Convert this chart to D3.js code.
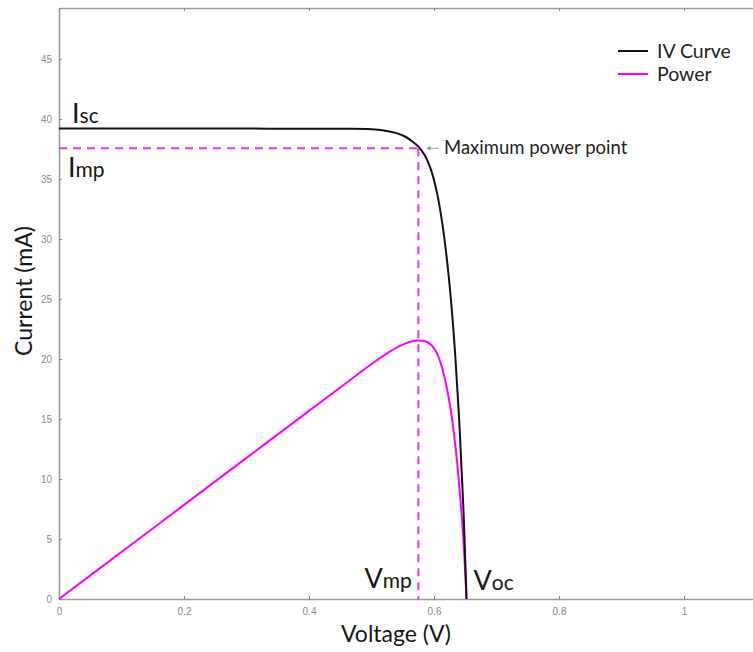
<!DOCTYPE html>
<html>
<head>
<meta charset="utf-8">
<script src="https://cdn.jsdelivr.net/npm/d3@7"></script>
<style>
  html, body { margin: 0; padding: 0; background: #fff; }
  svg { display: block; }
  text { font-family: Lato, "Open Sans", sans-serif; }
</style>
</head>
<body>
<svg id="chart" width="753" height="652"></svg>
<script>
// ---- data ----
const voltage   = [0, 0.1, 0.2, 0.3, 0.4, 0.45, 0.5, 0.52, 0.54, 0.555, 0.565, 0.575, 0.585, 0.595, 0.605, 0.613, 0.62, 0.627, 0.634, 0.641, 0.647, 0.652];
const ivCurrent = [39.2, 39.2, 39.2, 39.2, 39.19, 39.18, 39.15, 39.05, 38.82, 38.5, 38.15, 37.7, 37.0, 35.8, 33.8, 31.4, 28.6, 25.0, 20.3, 14.2, 7.6, 0];
const power     = [0, 3.92, 7.84, 11.76, 15.68, 17.63, 19.58, 20.3, 20.95, 21.3, 21.48, 21.55, 21.5, 21.2, 20.45, 19.25, 17.73, 15.68, 12.87, 9.1, 4.92, 0];
const xTicks = [0, 0.2, 0.4, 0.6, 0.8, 1];
const yTicks = [0, 5, 10, 15, 20, 25, 30, 35, 40, 45];
const Vmp = 0.575, Imp = 37.56, Isc = 39.2, Voc = 0.652;
const legendItems = [{name: "IV Curve", color: "#111"}, {name: "Power", color: "#ff00ff"}];

const svg = d3.select("#chart");
const x = d3.scaleLinear().domain([0, 1.1104]).range([59, 753]);
const y = d3.scaleLinear().domain([0, 49.25]).range([599, 8]);

const axisColor = "#9a9a9a";
// axes (MATLAB-like box with inward ticks)
const gx = svg.append("g").attr("transform", `translate(0,${y(0)})`)
  .call(d3.axisBottom(x).tickValues(xTicks).tickFormat(d => d === 0 ? "0" : String(d)).tickSizeInner(-3).tickSizeOuter(0).tickPadding(9));
const gxTop = svg.append("g").attr("transform", `translate(0,${y(49.25)})`)
  .call(d3.axisTop(x).tickValues(xTicks).tickFormat("").tickSizeInner(-3).tickSizeOuter(0));
const gy = svg.append("g").attr("transform", `translate(${x(0)},0)`)
  .call(d3.axisLeft(y).tickValues(yTicks).tickSizeInner(-3).tickSizeOuter(0).tickPadding(7));
[gx, gxTop, gy].forEach(g => {
  g.select(".domain").attr("stroke", axisColor).attr("stroke-width", 1.6);
  g.selectAll(".tick line").attr("stroke", "#888").attr("stroke-width", 1);
  g.selectAll(".tick text").attr("fill", "#8a8a8a").style("font-family", "'Liberation Sans', Arial, sans-serif").style("font-size", "10px");
});

const pts = voltage.map((v, i) => ({v, i: ivCurrent[i], p: power[i]}));

// dashed max-power-point guides
svg.append("line")
  .attr("x1", x(0)).attr("x2", x(Vmp)).attr("y1", y(Imp)).attr("y2", y(Imp))
  .attr("stroke", "#ee33ee").attr("stroke-width", 2).attr("stroke-dasharray", "8,6");
svg.append("line")
  .attr("x1", x(Vmp)).attr("x2", x(Vmp)).attr("y1", y(Imp)).attr("y2", y(0))
  .attr("stroke", "#ee33ee").attr("stroke-width", 2).attr("stroke-dasharray", "8,6");

// curves
const smooth = d3.curveCatmullRom.alpha(0.5);
svg.append("path").datum(pts)
  .attr("fill", "none").attr("stroke", "#ff00ff").attr("stroke-width", 2)
  .attr("d", d3.line().x(d => x(d.v)).y(d => y(d.p)).curve(smooth));
svg.append("path").datum(pts)
  .attr("fill", "none").attr("stroke", "#111").attr("stroke-width", 2)
  .attr("d", d3.line().x(d => x(d.v)).y(d => y(d.i)).curve(smooth));

// annotation arrow + text
svg.append("line").attr("x1", x(Vmp) + 20).attr("x2", x(Vmp) + 9).attr("y1", y(Imp)).attr("y2", y(Imp))
  .attr("stroke", "#999").attr("stroke-width", 1);
svg.append("path").attr("d", `M${x(Vmp) + 8},${y(Imp)} l4,-2.5 l0,5 z`).attr("fill", "#999");
svg.append("text").attr("x", 444).attr("y", y(Imp) + 6)
  .attr("fill", "#222").style("font-size", "18.5px").text("Maximum power point");

// point labels
function label(px, py, big, small) {
  const t = svg.append("text").attr("x", px).attr("y", py).attr("fill", "#151515");
  t.append("tspan").style("font-size", "27px").text(big);
  t.append("tspan").style("font-size", "21px").text(small);
}
label(72, y(Isc) - 6, "I", "sc");
label(68, y(Imp) + 29, "I", "mp");
label(x(Vmp) - 54, y(0) - 11, "V", "mp");
label(x(Voc) + 7, y(0) - 9, "V", "oc");

// axis titles
svg.append("text").attr("x", 396).attr("y", 642).attr("text-anchor", "middle")
  .attr("fill", "#151515").style("font-size", "23px").text("Voltage (V)");
svg.append("text").attr("transform", "translate(32,291) rotate(-90)").attr("text-anchor", "middle")
  .attr("fill", "#151515").style("font-size", "23px").text("Current (mA)");

// legend
const lg = svg.append("g");
legendItems.forEach((d, k) => {
  const ly = 51 + k * 23;
  lg.append("line").attr("x1", 618).attr("x2", 648).attr("y1", ly).attr("y2", ly)
    .attr("stroke", d.color).attr("stroke-width", 2);
  lg.append("text").attr("x", 657).attr("y", ly + 7).attr("fill", "#222")
    .style("font-size", "19.5px").text(d.name);
});
</script>
</body>
</html>
